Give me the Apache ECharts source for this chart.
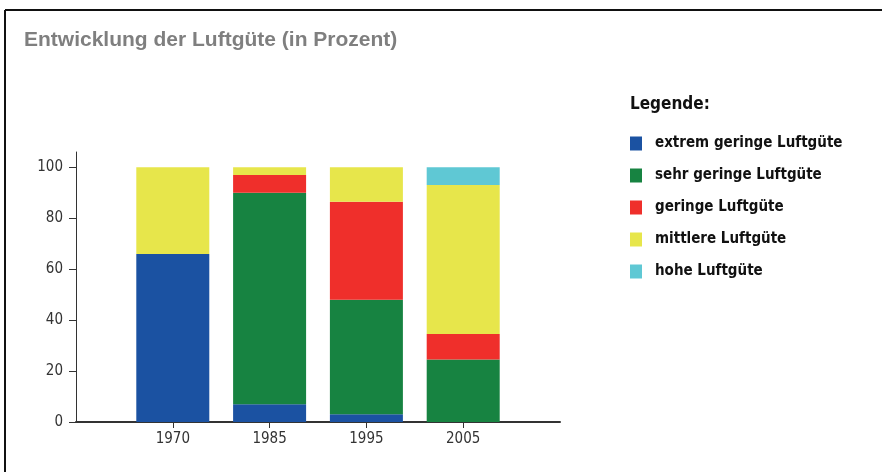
<!DOCTYPE html>
<html>
<head>
<meta charset="utf-8">
<script src="https://cdn.jsdelivr.net/npm/echarts@6/dist/echarts.min.js"></script>
<style>
    html, body { margin: 0; padding: 0; background: #fff; }
    #main { width: 882px; height: 472px; }
</style>
</head>
<body>
<div id="main"></div>
<script>
// Daten (Prozent)
var jahre = ['1970', '1985', '1995', '2005'];
var extremGering = [66, 7, 3, 0];
var sehrGering = [0, 83, 45, 24.5];
var gering = [0, 7, 38.5, 10];
var mittlere = [34, 3, 13.5, 58.5];
var hohe = [0, 0, 0, 7];
var yTicks = [0, 20, 40, 60, 80, 100];

var namen = ['extrem geringe Luftgüte', 'sehr geringe Luftgüte', 'geringe Luftgüte', 'mittlere Luftgüte', 'hohe Luftgüte'];
var farben = ['#1b52a2', '#178341', '#ef2f2b', '#e7e64b', '#5fc8d4'];
var werte = [extremGering, sehrGering, gering, mittlere, hohe];

var schmal = '"Liberation Sans Narrow", "Arial Narrow", "DejaVu Sans Condensed", sans-serif';

// leere Kategorie links und rechts, damit die Achse über die Balken hinausgeht
var kategorien = [''].concat(jahre, ['']);
function auffuellen(arr) {
    return [null].concat(arr, [null]);
}

var myChart = echarts.init(document.getElementById('main'));

var series = werte.map(function (w, i) {
    return {
        name: namen[i],
        type: 'bar',
        stack: 'gesamt',
        barWidth: 73,
        data: auffuellen(w),
        itemStyle: { color: farben[i] }
    };
});

option = {
    backgroundColor: '#fff',
    animation: false,
    title: [{
        text: 'Entwicklung der Luftgüte (in Prozent)',
        left: 19,
        top: 25,
        textStyle: {
            color: '#7f7f7f',
            fontSize: 21,
            fontWeight: 'bold',
            fontFamily: '"Liberation Sans", Arial, sans-serif'
        }
    }, {
        text: 'Legende:',
        left: 625,
        top: 91,
        textStyle: {
            color: '#111',
            fontSize: 17,
            fontWeight: 'bold',
            fontFamily: schmal
        }
    }],
    legend: {
        orient: 'vertical',
        left: 630,
        top: 136,
        padding: 0,
        icon: 'rect',
        itemWidth: 12,
        itemHeight: 14,
        itemGap: 17,
        selectedMode: false,
        data: namen,
        textStyle: {
            color: '#111',
            fontSize: 15,
            fontWeight: 'bold',
            fontFamily: schmal,
            padding: [0, 0, 0, 8]
        }
    },
    grid: {
        left: 76,
        right: 322,
        top: 152,
        bottom: 50
    },
    xAxis: {
        type: 'category',
        boundaryGap: false,
        data: kategorien,
        axisLine: {
            lineStyle: { color: '#333', width: 2 }
        },
        axisTick: {
            length: 6,
            interval: function (index, value) {
                return value !== '';
            },
            lineStyle: { color: '#333' }
        },
        axisLabel: {
            color: '#333',
            fontSize: 15,
            margin: 10,
            fontFamily: schmal
        },
        splitLine: { show: false }
    },
    yAxis: {
        type: 'value',
        min: 0,
        max: 106,
        axisLine: {
            show: true,
            lineStyle: { color: '#333' }
        },
        axisTick: {
            show: true,
            length: 7,
            customValues: yTicks,
            lineStyle: { color: '#333' }
        },
        axisLabel: {
            color: '#333',
            fontSize: 15,
            margin: 13,
            fontFamily: schmal,
            customValues: yTicks
        },
        splitLine: { show: false }
    },
    graphic: [{
        type: 'line',
        shape: { x1: 5, y1: 10, x2: 882, y2: 10 },
        style: { stroke: '#111', lineWidth: 2 }
    }, {
        type: 'line',
        shape: { x1: 5, y1: 10, x2: 5, y2: 472 },
        style: { stroke: '#111', lineWidth: 2 }
    }],
    series: series
};

myChart.setOption(option);
</script>
</body>
</html>
